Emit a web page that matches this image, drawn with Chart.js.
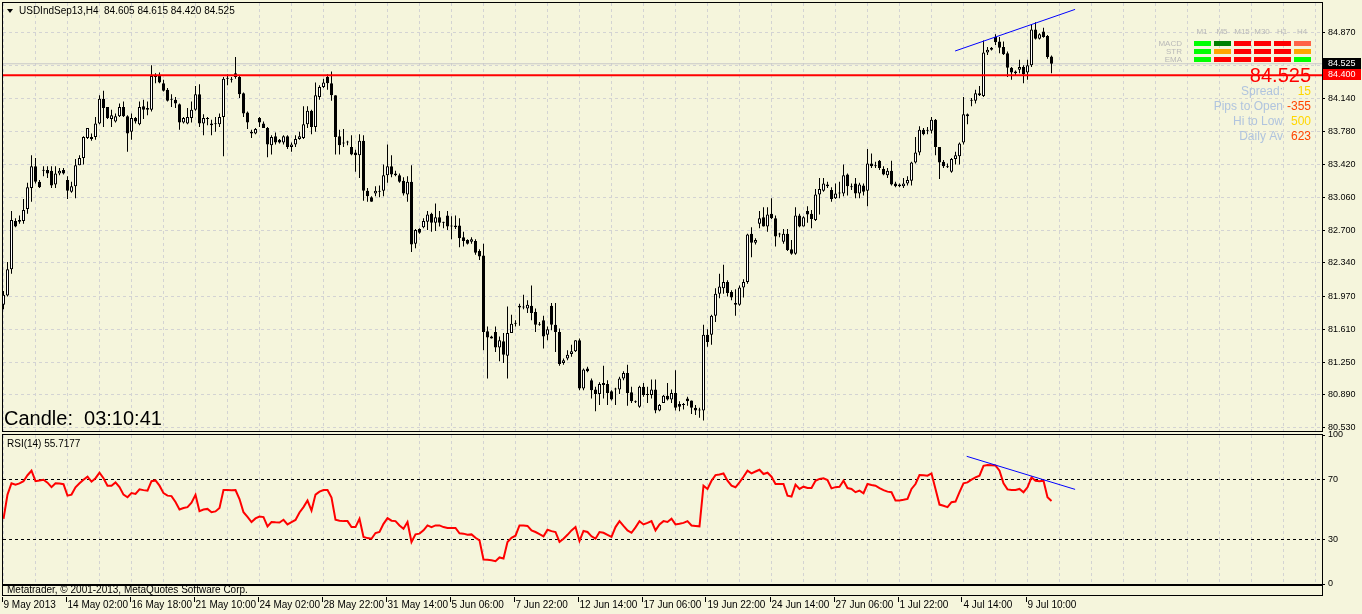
<!DOCTYPE html>
<html>
<head>
<meta charset="utf-8">
<title>USDIndSep13,H4</title>
<script src="https://cdn.jsdelivr.net/npm/chart.js@4/dist/chart.umd.min.js"></script>
<style>
  html, body { margin: 0; padding: 0; background: #f5f5dc; }
  body { position: relative; width: 1362px; height: 614px; overflow: hidden; }
  canvas { position: absolute; left: 0; }
  #priceChart { top: 0; }
  #rsiChart { top: 424px; }
</style>
</head>
<body>
<canvas id="priceChart" width="1362" height="434"></canvas>
<canvas id="rsiChart" width="1362" height="190"></canvas>
<script>
// H4 bars, 9 May - 9 Jul 2013
const X_LABELS = ['9 May 2013', '14 May 02:00', '16 May 18:00', '21 May 10:00', '24 May 02:00', '28 May 22:00',
  '31 May 14:00', '5 Jun 06:00', '7 Jun 22:00', '12 Jun 14:00', '17 Jun 06:00', '19 Jun 22:00',
  '24 Jun 14:00', '27 Jun 06:00', '1 Jul 22:00', '4 Jul 14:00', '9 Jul 10:00'];

const OPEN = [
  81.88, 81.98, 82.27, 82.80, 82.81, 82.80, 82.93, 83.16, 83.40, 83.23,
  83.35, 83.36, 83.35, 83.20, 83.32, 83.36, 83.25, 83.12, 83.18, 83.41,
  83.49, 83.71, 83.72, 83.72, 83.87, 84.14, 84.05, 83.92, 83.89, 83.95,
  84.05, 83.95, 83.78, 83.93, 83.86, 84.06, 84.02, 84.02, 84.38, 84.40,
  84.31, 84.24, 84.13, 84.13, 84.08, 83.88, 83.87, 83.93, 84.02, 84.19,
  83.87, 83.92, 83.85, 83.87, 83.86, 83.94, 84.36, 84.36, 84.42, 84.38,
  84.20, 83.99, 83.78, 83.76, 83.93, 83.87, 83.82, 83.63, 83.73, 83.69,
  83.66, 83.73, 83.61, 83.64, 83.70, 83.71, 83.86, 84.01, 83.83, 84.16,
  84.27, 84.38, 84.31, 84.18, 83.73, 83.66, 83.66, 83.61, 83.55, 83.52,
  83.68, 83.13, 83.06, 83.10, 83.12, 83.13, 83.30, 83.40, 83.32, 83.30,
  83.24, 83.09, 83.23, 82.55, 82.71, 82.73, 82.79, 82.88, 82.78, 82.84,
  82.78, 82.86, 82.74, 82.75, 82.75, 82.62, 82.59, 82.57, 82.58, 82.47,
  82.42, 81.59, 81.53, 81.58, 81.41, 81.48, 81.32, 81.57, 81.67, 81.87,
  81.85, 81.84, 81.87, 81.80, 81.67, 81.71, 81.55, 81.87, 81.66, 81.58,
  81.24, 81.29, 81.34, 81.37, 81.49, 80.96, 81.18, 81.05, 80.95, 80.90,
  81.02, 81.01, 80.93, 80.95, 80.95, 81.07, 81.13, 80.92, 80.82, 80.76,
  80.98, 80.89, 80.89, 80.95, 80.72, 80.80, 80.88, 80.84, 80.91, 80.79,
  80.78, 80.85, 80.83, 80.75, 80.73, 80.72, 81.55, 81.55, 81.76, 82.00,
  82.06, 82.13, 82.02, 81.90, 81.88, 82.07, 82.13, 82.66, 82.56, 82.77,
  82.84, 82.74, 82.88, 82.83, 82.65, 82.57, 82.66, 82.49, 82.44, 82.86,
  82.74, 82.91, 82.88, 82.81, 83.09, 83.13, 83.20, 83.14, 83.05, 83.10,
  83.10, 83.31, 83.18, 83.21, 83.10, 83.19, 83.13, 83.43, 83.40, 83.46,
  83.37, 83.30, 83.35, 83.21, 83.18, 83.18, 83.21, 83.24, 83.44, 83.55,
  83.80, 83.80, 83.79, 83.91, 83.61, 83.45, 83.40, 83.34, 83.48, 83.51,
  83.66, 83.97, 84.13, 84.12, 84.20, 84.17, 84.65, 84.68, 84.82, 84.77,
  84.71, 84.64, 84.48, 84.44, 84.46, 84.49, 84.43, 84.51, 84.90, 84.80,
  84.88, 84.83, 84.605];

const HIGH = [
  82.03, 82.35, 82.91, 82.83, 82.86, 83.04, 83.22, 83.52, 83.49, 83.25,
  83.40, 83.40, 83.40, 83.40, 83.38, 83.38, 83.29, 83.23, 83.48, 83.52,
  83.73, 83.82, 83.76, 83.94, 84.18, 84.23, 84.05, 84.02, 83.98, 84.09,
  84.11, 83.96, 83.98, 83.94, 84.11, 84.13, 84.11, 84.51, 84.42, 84.43,
  84.35, 84.26, 84.19, 84.16, 84.09, 83.94, 84.04, 84.11, 84.28, 84.30,
  83.97, 83.94, 83.91, 83.94, 83.98, 84.38, 84.41, 84.38, 84.60, 84.39,
  84.21, 84.00, 83.80, 83.82, 83.94, 83.89, 83.83, 83.74, 83.77, 83.70,
  83.74, 83.74, 83.66, 83.74, 83.78, 84.06, 84.06, 84.02, 84.32, 84.29,
  84.36, 84.41, 84.44, 84.18, 83.80, 83.81, 83.68, 83.74, 83.58, 83.75,
  83.74, 83.16, 83.07, 83.18, 83.19, 83.42, 83.64, 83.52, 83.35, 83.32,
  83.28, 83.29, 83.41, 82.71, 82.72, 82.83, 82.91, 82.89, 82.99, 82.91,
  82.79, 82.91, 82.85, 82.86, 82.83, 82.68, 82.60, 82.62, 82.60, 82.49,
  82.55, 81.64, 81.54, 81.64, 81.53, 81.57, 81.86, 81.77, 81.71, 81.89,
  81.99, 81.93, 82.09, 81.84, 81.69, 81.76, 81.64, 81.90, 81.90, 81.62,
  81.29, 81.38, 81.44, 81.49, 81.51, 81.18, 81.20, 81.07, 80.98, 81.03,
  81.21, 81.05, 80.94, 80.97, 81.09, 81.15, 81.22, 80.98, 80.83, 80.99,
  81.02, 80.98, 81.06, 81.06, 80.79, 80.89, 81.02, 80.95, 81.16, 80.82,
  80.80, 80.87, 80.83, 80.78, 80.75, 81.66, 81.61, 81.77, 82.06, 82.22,
  82.32, 82.15, 82.04, 82.05, 82.09, 82.16, 82.66, 82.73, 82.61, 82.91,
  82.95, 82.95, 83.05, 82.86, 82.67, 82.71, 82.71, 82.59, 82.95, 82.88,
  82.85, 82.96, 82.92, 83.15, 83.27, 83.27, 83.23, 83.17, 83.21, 83.23,
  83.42, 83.32, 83.21, 83.27, 83.22, 83.21, 83.59, 83.54, 83.45, 83.47,
  83.40, 83.38, 83.46, 83.23, 83.21, 83.27, 83.29, 83.45, 83.72, 83.84,
  83.82, 83.83, 83.94, 83.92, 83.61, 83.47, 83.43, 83.49, 83.56, 83.66,
  84.16, 83.98, 84.15, 84.24, 84.28, 84.78, 84.71, 84.71, 84.85, 84.82,
  84.77, 84.66, 84.49, 84.45, 84.57, 84.51, 84.57, 84.95, 84.98, 84.86,
  84.92, 84.84, 84.615];

const LOW = [
  81.83, 81.97, 82.22, 82.73, 82.77, 82.77, 82.88, 83.01, 83.21, 83.16,
  83.29, 83.27, 83.16, 83.16, 83.30, 83.31, 83.04, 83.11, 83.05, 83.41,
  83.42, 83.70, 83.68, 83.69, 83.86, 83.83, 83.92, 83.83, 83.88, 83.94,
  83.94, 83.56, 83.69, 83.87, 83.85, 83.92, 83.96, 84.00, 84.31, 84.31,
  84.22, 84.11, 84.05, 84.04, 83.80, 83.87, 83.86, 83.88, 84.01, 83.83,
  83.74, 83.85, 83.74, 83.78, 83.83, 83.51, 84.29, 84.32, 84.36, 84.15,
  83.94, 83.81, 83.71, 83.75, 83.83, 83.82, 83.50, 83.53, 83.64, 83.65,
  83.64, 83.59, 83.56, 83.61, 83.69, 83.70, 83.82, 83.75, 83.78, 84.13,
  84.26, 84.24, 84.12, 83.53, 83.53, 83.61, 83.63, 83.52, 83.34, 83.27,
  83.02, 83.01, 83.01, 83.07, 83.06, 83.07, 83.22, 83.28, 83.29, 83.22,
  83.08, 83.01, 82.46, 82.50, 82.66, 82.72, 82.70, 82.68, 82.69, 82.74,
  82.72, 82.70, 82.60, 82.71, 82.51, 82.52, 82.54, 82.55, 82.43, 82.37,
  81.38, 81.07, 81.51, 81.36, 81.26, 81.24, 81.07, 81.57, 81.64, 81.65,
  81.83, 81.79, 81.71, 81.58, 81.65, 81.40, 81.49, 81.60, 81.36, 81.21,
  81.22, 81.27, 81.31, 81.36, 80.94, 80.94, 81.14, 80.85, 80.71, 80.78,
  80.85, 80.78, 80.83, 80.78, 80.90, 81.05, 80.77, 80.80, 80.80, 80.75,
  80.87, 80.80, 80.85, 80.69, 80.71, 80.80, 80.83, 80.80, 80.72, 80.71,
  80.73, 80.77, 80.68, 80.67, 80.64, 80.61, 81.42, 81.44, 81.69, 81.95,
  82.00, 81.97, 81.93, 81.76, 81.87, 81.96, 82.11, 82.40, 82.54, 82.72,
  82.74, 82.68, 82.82, 82.52, 82.62, 82.55, 82.47, 82.43, 82.43, 82.73,
  82.74, 82.78, 82.72, 82.80, 82.87, 83.12, 83.16, 83.01, 83.04, 83.05,
  83.07, 83.08, 83.14, 83.05, 83.05, 83.08, 82.96, 83.38, 83.38, 83.36,
  83.30, 83.27, 83.19, 83.17, 83.17, 83.16, 83.19, 83.19, 83.43, 83.52,
  83.74, 83.75, 83.76, 83.52, 83.26, 83.38, 83.38, 83.33, 83.42, 83.42,
  83.64, 83.86, 84.06, 84.09, 84.17, 84.16, 84.62, 84.67, 84.73, 84.64,
  84.62, 84.38, 84.35, 84.40, 84.42, 84.31, 84.35, 84.49, 84.79, 84.79,
  84.81, 84.58, 84.420];

const CLOSE = [
  81.99, 82.27, 82.81, 82.74, 82.79, 82.92, 83.17, 83.40, 83.23, 83.17,
  83.36, 83.32, 83.19, 83.32, 83.35, 83.32, 83.13, 83.18, 83.41, 83.49,
  83.72, 83.82, 83.70, 83.87, 84.14, 84.04, 83.93, 83.96, 83.95, 84.05,
  83.95, 83.76, 83.93, 83.89, 84.05, 84.02, 84.04, 84.39, 84.40, 84.32,
  84.23, 84.12, 84.13, 84.09, 83.88, 83.93, 83.94, 84.02, 84.19, 83.87,
  83.93, 83.93, 83.87, 83.86, 83.94, 84.36, 84.36, 84.35, 84.38, 84.19,
  83.98, 83.88, 83.76, 83.81, 83.88, 83.82, 83.64, 83.72, 83.66, 83.66,
  83.73, 83.61, 83.64, 83.70, 83.73, 83.86, 84.01, 83.83, 84.18, 84.27,
  84.32, 84.31, 84.18, 83.72, 83.63, 83.65, 83.66, 83.53, 83.52, 83.68,
  83.13, 83.07, 83.01, 83.13, 83.13, 83.30, 83.40, 83.31, 83.30, 83.23,
  83.10, 83.23, 82.54, 82.70, 82.67, 82.80, 82.87, 82.78, 82.84, 82.78,
  82.78, 82.74, 82.75, 82.73, 82.61, 82.58, 82.55, 82.60, 82.45, 82.41,
  81.58, 81.52, 81.51, 81.41, 81.49, 81.33, 81.57, 81.67, 81.68, 81.85,
  81.86, 81.88, 81.79, 81.66, 81.66, 81.53, 81.61, 81.66, 81.58, 81.23,
  81.27, 81.33, 81.37, 81.49, 80.96, 81.17, 81.15, 80.94, 80.90, 81.01,
  81.00, 80.91, 80.84, 80.96, 81.07, 81.13, 80.91, 80.82, 80.81, 80.98,
  80.89, 80.90, 80.95, 80.72, 80.78, 80.88, 80.84, 80.91, 80.75, 80.76,
  80.79, 80.82, 80.75, 80.72, 80.72, 81.55, 81.47, 81.76, 82.00, 82.08,
  82.13, 82.01, 81.96, 81.88, 82.07, 82.13, 82.65, 82.56, 82.59, 82.83,
  82.74, 82.87, 82.83, 82.63, 82.65, 82.66, 82.48, 82.44, 82.86, 82.74,
  82.84, 82.87, 82.82, 83.09, 83.15, 83.21, 83.18, 83.04, 83.10, 83.11,
  83.30, 83.18, 83.17, 83.10, 83.20, 83.12, 83.43, 83.40, 83.40, 83.38,
  83.31, 83.35, 83.20, 83.18, 83.20, 83.21, 83.25, 83.44, 83.55, 83.80,
  83.75, 83.79, 83.91, 83.61, 83.44, 83.40, 83.39, 83.48, 83.52, 83.65,
  83.97, 83.95, 84.12, 84.20, 84.18, 84.65, 84.68, 84.70, 84.76, 84.70,
  84.63, 84.48, 84.43, 84.42, 84.49, 84.41, 84.51, 84.90, 84.80, 84.85,
  84.82, 84.60, 84.525];

const RSI = [
  43.8, 60, 67.6, 66.7, 67.5, 69, 73, 76, 69, 69.5,
  70, 68, 65, 67.6, 67.5, 67, 59.3, 60, 64.9, 67.6,
  70, 72, 68.7, 71, 74.7, 71, 66, 66, 68.2, 65,
  60, 58.2, 61, 60.4, 63.6, 63, 62.7, 69, 69.5, 66,
  61, 59.3, 59, 55, 50, 51, 51.6, 54.5, 59.8, 48.9,
  50, 50.4, 48.2, 48.7, 51, 63.1, 63.1, 63, 63.1, 57,
  48.2, 45, 41.6, 44, 45.3, 44.9, 38.7, 41.6, 41.4, 41.3,
  43.1, 40, 41.5, 43, 48, 51.6, 56, 49.3, 60, 62,
  63.1, 63.1, 58, 43.1, 42.5, 42.2, 42.2, 38.2, 38.2, 43.8,
  31.6, 30.8, 30.4, 34.2, 35, 40.4, 44.2, 42.5, 42.2, 39.3,
  37.1, 41.6, 28.2, 33.3, 33.8, 36, 39.3, 38.2, 39.3, 39.3,
  38.2, 37.6, 37.6, 37.6, 34, 33.8, 33.1, 33.3, 31, 29.3,
  16.4, 16.2, 16, 15.3, 17.8, 17.1, 28.2, 31, 32.4, 39.3,
  39.3, 39, 36, 34.9, 33.5, 32, 36.4, 35.5, 34.9, 28.2,
  30.4, 33, 36, 38.2, 28.9, 35.6, 34.9, 32, 30.4, 34.9,
  34.4, 33, 31.6, 38.2, 42.2, 39, 36, 34.4, 38, 42.2,
  40, 41, 42.2, 36, 40, 42.2, 41.6, 43.8, 40, 40.4,
  41, 42.2, 39.3, 39, 38.7, 66, 63.8, 69.3, 73.1, 73.5,
  74.2, 69.3, 66, 64.9, 68.2, 72, 76, 74.2, 75.5, 76.7,
  73.8, 74.7, 72, 67.1, 67.1, 67.1, 59.3, 58.7, 66.7, 63.8,
  65.3, 64.5, 64.4, 69.3, 70.5, 70.9, 69.8, 64.2, 65, 65.3,
  69.3, 64.4, 63.8, 61.6, 62.7, 60.9, 67.1, 66.5, 66, 64.4,
  63, 62, 61.6, 56, 56, 56.5, 57.1, 63.8, 67.1, 73.1,
  73, 72.7, 74.2, 63.8, 53.3, 52.5, 51.6, 54.9, 55.3, 61.6,
  67.6, 68.2, 70, 71.6, 72.7, 79.3, 79.8, 79.7, 79.6, 76,
  67.6, 63.5, 63.1, 63.1, 63.8, 61.6, 64.9, 71.6, 69.3, 68.9,
  69.3, 58.2, 55.7177];

const PRICE_TICKS = [80.530, 80.890, 81.250, 81.610, 81.970, 82.340, 82.700, 83.060, 83.420, 83.780, 84.140, 84.505, 84.870];
const PRICE_TICK_LABELS = ['80.530', '80.890', '81.250', '81.610', '81.970', '82.340', '82.700', '83.060', '83.420', '83.780', '84.140', '', '84.870'];
const RSI_TICKS = [0, 30, 70, 100];
const RSI_LEVELS = [30, 70];

const LEVEL_LINE = 84.400;   // red horizontal line
const BID = 84.525;          // grey bid line
const PRICE_TREND_X = [237.9, 267.9];
const PRICE_TREND_Y = [84.665, 85.122];
const RSI_TREND_X = [240.8, 267.9];
const RSI_TREND_Y = [85.7, 63.5];

const SYMBOL = 'USDIndSep13,H4';
const CANDLE_TIMER = 'Candle:  03:10:41';
const COPYRIGHT = 'Metatrader, \u00a9 2001-2013, MetaQuotes Software Corp.';

// signal panel top right
const HUD_TF = ['M1', 'M5', 'M15', 'M30', 'H1', 'H4'];
const HUD_ROWS = ['MACD', 'STR', 'EMA'];
const HUD_COLORS = [
  ['#00ff00', '#008000', '#ff0000', '#ff0000', '#ff0000', '#ff6347'],
  ['#00ff00', '#ffa500', '#ff0000', '#ff0000', '#ff0000', '#ffa500'],
  ['#00ff00', '#ff0000', '#ff0000', '#ff0000', '#ff0000', '#00ff00']
];
const INFO_LABELS = ['Spread:', 'Pips to Open', 'Hi to Low', 'Daily Av'];
const INFO_VALUES = ['15', '-355', '500', '623'];
const INFO_COLORS = ['#ffd700', '#ff4500', '#ffd700', '#ff4500'];

// ---- layout ----
const FONT = "'Liberation Sans', Arial, sans-serif";
const GRID = '#d3d3d3';
const X_MIN = -0.125, X_MAX = 329.625;   // 4 px per bar
const PRICE_MIN = 80.494, PRICE_MAX = 85.192;

const idx = CLOSE.map((_, i) => i);

function fixWidth(w) {
  return s => { s.width = w; s.paddingTop = 0; s.paddingBottom = 0; };
}
function fixHeight(h) {
  return s => { s.height = h; s.paddingLeft = 0; s.paddingRight = 0; };
}

function timeAxis(height, showLabels) {
  return {
    type: 'linear', min: X_MIN, max: X_MAX, offset: false,
    afterFit: fixHeight(height),
    afterBuildTicks: s => {
      const t = [];
      for (let v = 0; v <= X_MAX; v += 8) t.push({ value: v });
      s.ticks = t;
    },
    ticks: {
      display: showLabels, autoSkip: false, maxRotation: 0, minRotation: 0,
      align: 'start', padding: 15, color: '#000', font: { family: FONT, size: 10 },
      callback: v => { const k = Math.round(v); return k % 16 === 0 ? (X_LABELS[k / 16] || '') : ''; }
    },
    grid: { color: GRID, drawTicks: false, offset: false },
    border: { display: false, dash: [3, 3] }
  };
}

const priceDecor = {
  id: 'priceDecor',
  afterDraw(chart) {
    const { ctx, chartArea: a, scales: { y } } = chart;
    const last = CLOSE.length - 1;
    ctx.save();
    ctx.strokeStyle = '#000';
    ctx.lineWidth = 1;
    ctx.strokeRect(a.left - 0.5, a.top - 0.5, a.width + 1, a.height + 1);

    // header
    ctx.fillStyle = '#000';
    ctx.beginPath();
    ctx.moveTo(a.left + 4, a.top + 6);
    ctx.lineTo(a.left + 10, a.top + 6);
    ctx.lineTo(a.left + 7, a.top + 10);
    ctx.closePath();
    ctx.fill();
    ctx.font = `10px ${FONT}`;
    ctx.textAlign = 'left';
    ctx.textBaseline = 'middle';
    const ohlc = [OPEN[last], HIGH[last], LOW[last], CLOSE[last]].map(v => v.toFixed(3)).join(' ');
    ctx.fillText(`${SYMBOL}  ${ohlc}`, a.left + 16, a.top + 8);

    ctx.font = `20px ${FONT}`;
    ctx.textBaseline = 'alphabetic';
    ctx.fillText(CANDLE_TIMER, a.left + 1, a.bottom - 6);

    // price tags on the axis
    [[BID, '#000000'], [LEVEL_LINE, '#ff0000']].forEach(([v, bg]) => {
      const py = Math.round(y.getPixelForValue(v));
      ctx.fillStyle = bg;
      ctx.fillRect(a.right + 1, py - 6, 38, 11);
      ctx.fillStyle = '#fff';
      ctx.font = `9px ${FONT}`;
      ctx.textAlign = 'left';
      ctx.textBaseline = 'middle';
      ctx.fillText(v.toFixed(3), a.right + 6, py);
    });

    // signal grid
    const hx = a.right - 128;
    ctx.font = `8px ${FONT}`;
    ctx.fillStyle = '#b8b8b8';
    ctx.textAlign = 'center';
    HUD_TF.forEach((t, k) => ctx.fillText(t, hx + 8 + 20 * k, a.top + 29));
    ctx.textAlign = 'right';
    HUD_ROWS.forEach((r, j) => ctx.fillText(r, hx - 12, a.top + 41 + 8 * j));
    HUD_COLORS.forEach((row, j) => row.forEach((c, k) => {
      ctx.fillStyle = c;
      ctx.fillRect(hx + 20 * k, a.top + 38 + 8 * j, 17, 5);
    }));

    // price + info block
    ctx.textAlign = 'right';
    ctx.textBaseline = 'alphabetic';
    ctx.font = `20px ${FONT}`;
    ctx.fillStyle = '#ff0000';
    ctx.fillText(CLOSE[last].toFixed(3), a.right - 11, a.top + 79);
    ctx.font = `12px ${FONT}`;
    INFO_LABELS.forEach((t, j) => {
      const by = a.top + 92 + 15 * j;
      ctx.fillStyle = '#b0c4de';
      ctx.fillText(t, a.right - 39, by);
      ctx.fillStyle = INFO_COLORS[j];
      ctx.fillText(INFO_VALUES[j], a.right - 11, by);
    });
    ctx.restore();
  }
};

const rsiDecor = {
  id: 'rsiDecor',
  afterDraw(chart) {
    const { ctx, chartArea: a, scales: { x } } = chart;
    ctx.save();
    ctx.strokeStyle = '#000';
    ctx.lineWidth = 1;
    ctx.strokeRect(a.left - 0.5, a.top - 0.5, a.width + 1, a.height + 1);
    const sy = a.bottom + 1.5;
    ctx.strokeRect(a.left - 0.5, sy, a.width + 1, 10);

    ctx.fillStyle = '#000';
    ctx.font = `10px ${FONT}`;
    ctx.textAlign = 'left';
    ctx.textBaseline = 'middle';
    ctx.fillText(`RSI(14) ${RSI[RSI.length - 1].toFixed(4)}`, a.left + 4, a.top + 9);

    // short marks before the time labels
    ctx.beginPath();
    X_LABELS.forEach((_, k) => {
      const px = Math.round(x.getPixelForValue(16 * k)) - 1.5;
      ctx.moveTo(px, a.bottom + 13);
      ctx.lineTo(px, a.bottom + 18);
    });
    ctx.stroke();

    ctx.beginPath();
    ctx.rect(a.left, sy + 0.5, a.width, 9);
    ctx.clip();
    ctx.fillText(COPYRIGHT, a.left + 4, sy + 4.5);
    ctx.restore();
  }
};

const common = {
  responsive: false,
  animation: false,
  devicePixelRatio: 1,
  events: [],
  plugins: { legend: { display: false }, tooltip: { enabled: false } }
};

new Chart(document.getElementById('priceChart'), {
  type: 'bar',
  data: {
    datasets: [
      {
        type: 'line',
        data: [{ x: X_MIN, y: LEVEL_LINE }, { x: X_MAX, y: LEVEL_LINE }],
        borderColor: '#ff0000', borderWidth: 2, pointRadius: 0, order: 0
      },
      {
        type: 'line',
        data: PRICE_TREND_X.map((x, k) => ({ x, y: PRICE_TREND_Y[k] })),
        borderColor: '#0000ff', borderWidth: 1, pointRadius: 0, order: 0
      },
      {
        data: idx.map(i => ({ x: i, y: [OPEN[i], CLOSE[i]] })),
        backgroundColor: c => CLOSE[c.dataIndex] >= OPEN[c.dataIndex] ? '#ffffff' : '#000000',
        borderColor: '#000', borderWidth: 1, borderSkipped: false,
        barThickness: 3, maxBarThickness: 3, minBarLength: 1,
        grouped: false, inflateAmount: 0, order: 1
      },
      {
        data: idx.map(i => ({ x: i, y: [LOW[i], HIGH[i]] })),
        backgroundColor: '#000', borderWidth: 0,
        barThickness: 1, maxBarThickness: 1,
        grouped: false, inflateAmount: 0, order: 2
      },
      {
        type: 'line',
        data: [{ x: X_MIN, y: BID }, { x: X_MAX, y: BID }],
        borderColor: '#c8c8c8', borderWidth: 1, pointRadius: 0, order: 3
      }
    ]
  },
  options: {
    ...common,
    layout: { padding: { left: 3, top: 3, right: 0, bottom: 3 } },
    scales: {
      x: timeAxis(0, false),
      y: {
        type: 'linear', position: 'right', min: PRICE_MIN, max: PRICE_MAX,
        afterFit: fixWidth(40),
        afterBuildTicks: s => { s.ticks = PRICE_TICKS.map(value => ({ value })); },
        ticks: {
          autoSkip: false, padding: 3, color: '#000', font: { family: FONT, size: 9 },
          callback: (v, i) => PRICE_TICK_LABELS[i]
        },
        grid: { color: GRID, tickLength: 3, tickColor: '#000' },
        border: { display: false, dash: [3, 3] }
      }
    }
  },
  plugins: [priceDecor]
});

new Chart(document.getElementById('rsiChart'), {
  type: 'line',
  data: {
    datasets: [
      {
        data: RSI_TREND_X.map((x, k) => ({ x, y: RSI_TREND_Y[k] })),
        borderColor: '#0000ff', borderWidth: 1, pointRadius: 0, order: 0
      },
      {
        data: idx.map(i => ({ x: i, y: RSI[i] })),
        borderColor: '#ff0000', borderWidth: 2, pointRadius: 0, tension: 0, order: 1
      }
    ]
  },
  options: {
    ...common,
    layout: { padding: { left: 3, top: 11, right: 0, bottom: 0 } },
    scales: {
      x: timeAxis(30, true),
      y: {
        type: 'linear', position: 'right', min: 0, max: 100,
        afterFit: fixWidth(40),
        afterBuildTicks: s => { s.ticks = RSI_TICKS.map(value => ({ value })); },
        ticks: { autoSkip: false, padding: 3, color: '#000', font: { family: FONT, size: 9 } },
        grid: {
          color: c => (c.tick && RSI_LEVELS.includes(c.tick.value)) ? '#000' : 'rgba(0,0,0,0)',
          tickLength: 3, tickColor: '#000'
        },
        border: { display: false, dash: [3, 3] }
      }
    }
  },
  plugins: [rsiDecor]
});
</script>
</body>
</html>
